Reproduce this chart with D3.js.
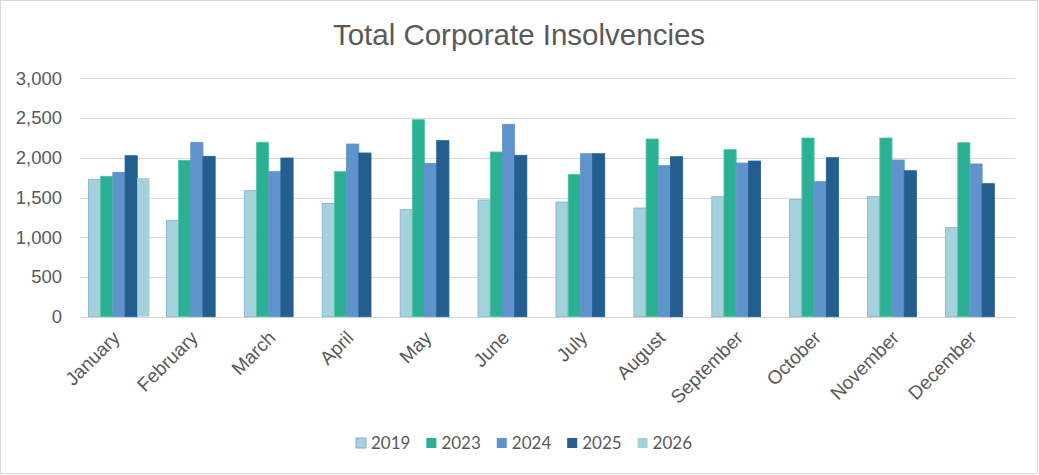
<!DOCTYPE html>
<html>
<head>
<meta charset="utf-8">
<script src="https://cdn.jsdelivr.net/npm/d3@7"></script>
<style>
  body { margin: 0; background: #fff; }
  svg text { font-family: "Liberation Sans", Arial, sans-serif; fill: #595959; }
</style>
</head>
<body>
<div id="chart"></div>
<script>
// values
var months = ["January", "February", "March", "April", "May", "June",
              "July", "August", "September", "October", "November", "December"];
var years = ["2019", "2023", "2024", "2025", "2026"];

var v2019 = [1729, 1213, 1586, 1427, 1347, 1469, 1443, 1368, 1510, 1477, 1510, 1120];
var v2023 = [1767, 1968, 2195, 1825, 2479, 2073, 1792, 2236, 2102, 2249, 2249, 2190];
var v2024 = [1817, 2195, 1825, 2173, 1930, 2421, 2051, 1900, 1934, 1699, 1972, 1922];
var v2025 = [2026, 2018, 1997, 2060, 2215, 2031, 2051, 2013, 1959, 2001, 1837, 1674];
var v2026 = [1745, null, null, null, null, null, null, null, null, null, null, null];

var yTicks = [0, 500, 1000, 1500, 2000, 2500, 3000];

var colors = {"2019": "#a5d1dc", "2023": "#2bb093", "2024": "#5f93cb", "2025": "#245e8f", "2026": "#a5d1dc"};
var strokes = {"2019": "#7fb1d2", "2023": "#4fc7a8", "2024": "#5f93cb", "2025": "#245e8f", "2026": "none"};

var seriesVals = {"2019": v2019, "2023": v2023, "2024": v2024, "2025": v2025, "2026": v2026};

var width = 1039, height = 475;
var plot = {left: 80, right: 1015, top: 78.3, bottom: 316.7};

var svg = d3.select("#chart").append("svg")
    .attr("width", width)
    .attr("height", height);

// outer border
svg.append("rect")
    .attr("x", 0.5).attr("y", 0.5)
    .attr("width", width - 2).attr("height", height - 2)
    .attr("fill", "#fff")
    .attr("stroke", "#d9d9d9");

svg.append("text")
    .attr("x", 519)
    .attr("y", 45)
    .attr("text-anchor", "middle")
    .style("font-size", "29.5px")
    .text("Total Corporate Insolvencies");

var x = d3.scaleBand()
    .domain(months)
    .range([plot.left, plot.right])
    .paddingInner(0.217)
    .paddingOuter(0.1085);

var xs = d3.scaleBand()
    .domain(years)
    .range([0, x.bandwidth()]);

var y = d3.scaleLinear()
    .domain([0, 3000])
    .range([plot.bottom, plot.top]);

// gridlines
svg.append("g")
  .selectAll("line")
    .data(yTicks)
  .enter().append("line")
    .attr("x1", plot.left)
    .attr("x2", plot.right)
    .attr("y1", function(d) { return Math.round(y(d)) + 0.5; })
    .attr("y2", function(d) { return Math.round(y(d)) + 0.5; })
    .attr("stroke", "#d9d9d9")
    .attr("stroke-width", 1);

// y axis labels
var yAxis = d3.axisLeft(y)
    .tickValues(yTicks)
    .tickFormat(d3.format(","))
    .tickSize(0)
    .tickPadding(18);

var gy = svg.append("g")
    .attr("transform", "translate(" + plot.left + ",0)")
    .call(yAxis);
gy.select(".domain").remove();
gy.selectAll("text")
    .style("font-size", "18.5px")
    .style("font-family", "Liberation Sans, Arial, sans-serif")
    .attr("fill", "#595959");

// bars
var rows = [];
years.forEach(function(yr) {
  seriesVals[yr].forEach(function(v, i) {
    if (v != null) rows.push({year: yr, month: months[i], value: v});
  });
});

svg.append("g")
  .selectAll("rect")
    .data(rows)
  .enter().append("rect")
    .attr("x", function(d) { return x(d.month) + xs(d.year); })
    .attr("y", function(d) { return y(d.value); })
    .attr("width", xs.bandwidth())
    .attr("height", function(d) { return y(0) - y(d.value); })
    .attr("fill", function(d) { return colors[d.year]; })
    .attr("stroke", function(d) { return strokes[d.year]; })
    .attr("stroke-width", 0.8);

// x axis labels (rotated)
svg.append("g")
  .selectAll("text")
    .data(months)
  .enter().append("text")
    .attr("transform", function(d) {
      return "translate(" + (x(d) + x.bandwidth() / 2 + 2) + ",339) rotate(-45)";
    })
    .attr("text-anchor", "end")
    .style("font-size", "19px")
    .text(function(d) { return d; });

// legend
var legend = svg.append("g")
  .selectAll("g")
    .data(years)
  .enter().append("g")
    .attr("transform", function(d, i) { return "translate(" + (356 + i * 70.4) + ",438)"; });

legend.append("rect")
    .attr("width", 10)
    .attr("height", 10)
    .attr("fill", function(d) { return colors[d]; })
    .attr("stroke", function(d) { return d === "2019" ? strokes[d] : "none"; });

legend.append("text")
    .attr("x", 15)
    .attr("y", 5)
    .attr("dy", "0.35em")
    .style("font-family", "Lato, 'Open Sans', sans-serif")
    .style("font-size", "17px")
    .text(function(d) { return d; });
</script>
</body>
</html>
